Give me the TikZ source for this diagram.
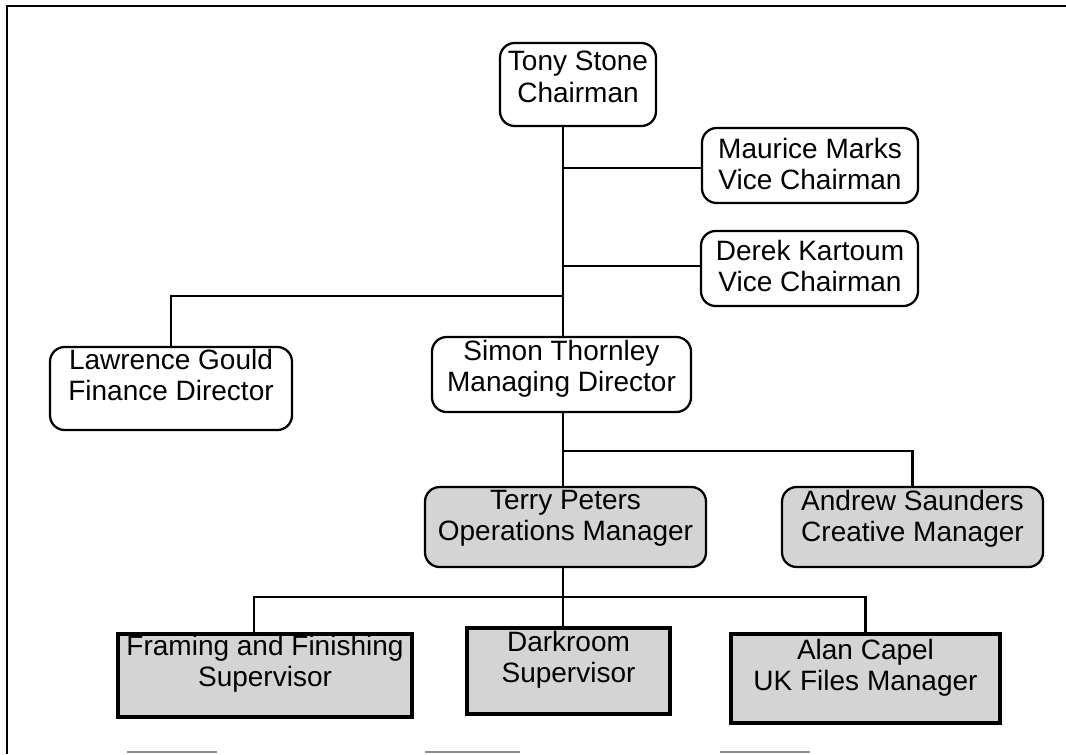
\documentclass[tikz,border=0pt]{standalone}
\usepackage{fontspec}
\setmainfont{Liberation Sans}
\begin{document}
\begin{tikzpicture}[x=0.75pt, y=-0.75pt,
  box/.style={draw=black, line width=1.7pt, fill=white, inner sep=0pt, rounded corners=11pt},
  shadedbox/.style={box, fill=black!17},
  flatbox/.style={draw=black, line width=2.6pt, fill=black!17, inner sep=0pt},
  txt/.style={align=center, inner sep=0pt, font=\fontsize{21pt}{23.5pt}\selectfont},
  link/.style={draw=black, line width=1.8pt},
  frameline/.style={draw=black, line width=2.2pt},
  edgemark/.style={draw=black!45, line width=1.4pt}]
\useasboundingbox (0,0) rectangle (1066,754);

% page frame
\draw[frameline] (7,754) -- (7,6) -- (1066,6);
\draw[edgemark] (127,752) -- (217,752);
\draw[edgemark] (425,752) -- (520,752);
\draw[edgemark] (720,752) -- (810,752);

% junctions on the reporting lines
\coordinate (jm) at (563,168);
\coordinate (jd) at (563,266);
\coordinate (jl) at (563,296);
\coordinate (jc) at (563,451);
\coordinate (jo) at (563,597);
\coordinate (jf) at (254,597);

% board
\node[box, minimum width=117pt, minimum height=62.25pt] (tony) at (578,84.5) {};
\node[box, minimum width=162pt, minimum height=56.25pt] (maurice) at (810,165.5) {};
\node[box, minimum width=162.75pt, minimum height=56.25pt] (derek) at (809.5,268.5) {};
\node[box, minimum width=181.5pt, minimum height=62.25pt] (lawrence) at (171,388.5) {};
\node[box, minimum width=194.25pt, minimum height=56.25pt] (simon) at (561.5,374.5) {};

% managers
\node[shadedbox, minimum width=210.75pt, minimum height=60pt] (terry) at (565.5,527) {};
\node[shadedbox, minimum width=195.75pt, minimum height=60pt] (andrew) at (912.5,527) {};

% supervisors
\node[flatbox, minimum width=220.5pt, minimum height=62.25pt] (framing) at (265,675.5) {};
\node[flatbox, minimum width=152.25pt, minimum height=64.5pt] (darkroom) at (568.5,671) {};
\node[flatbox, minimum width=201.75pt, minimum height=66.75pt] (alan) at (865.5,678.5) {};

% names and titles
\node[txt] (tonyt) at (578,77) {Tony Stone\\Chairman};
\node[txt] (mauricet) at (810,164) {Maurice Marks\\Vice Chairman};
\node[txt] (derekt) at (810,266) {Derek Kartoum\\Vice Chairman};
\node[txt] (lawrencet) at (171,375) {Lawrence Gould\\Finance Director};
\node[txt] (simont) at (561.5,369) {Simon Thornley\\Managing Director};
\node[txt] (terryt) at (565.5,518) {Terry Peters\\Operations Manager};
\node[txt] (andrewt) at (912.5,519) {Andrew Saunders\\Creative Manager};
\node[txt] (framingt) at (265,664) {Framing and Finishing\\Supervisor};
\node[txt] (darkroomt) at (568.5,660) {Darkroom\\Supervisor};
\node[txt] (alant) at (865.5,668) {Alan Capel\\UK Files Manager};

% connectors
\draw[link] (tony.south -| jm) -- (simon.north -| jm);
\draw[link] (jm) -- (jm -| maurice.west);
\draw[link] (jd) -- (jd -| derek.west);
\draw[link] (jl) -| (lawrence.north);
\draw[link] (simon.south -| jc) -- (terry.north -| jc);
\draw[link] (jc) -| (andrew.north);
\draw[link] (terry.south -| jo) -- (darkroom.north -| jo);
\draw[link] (jf |- framing.north) -- (jf) -- (jo) -| (alan.north);
\end{tikzpicture}
\end{document}
